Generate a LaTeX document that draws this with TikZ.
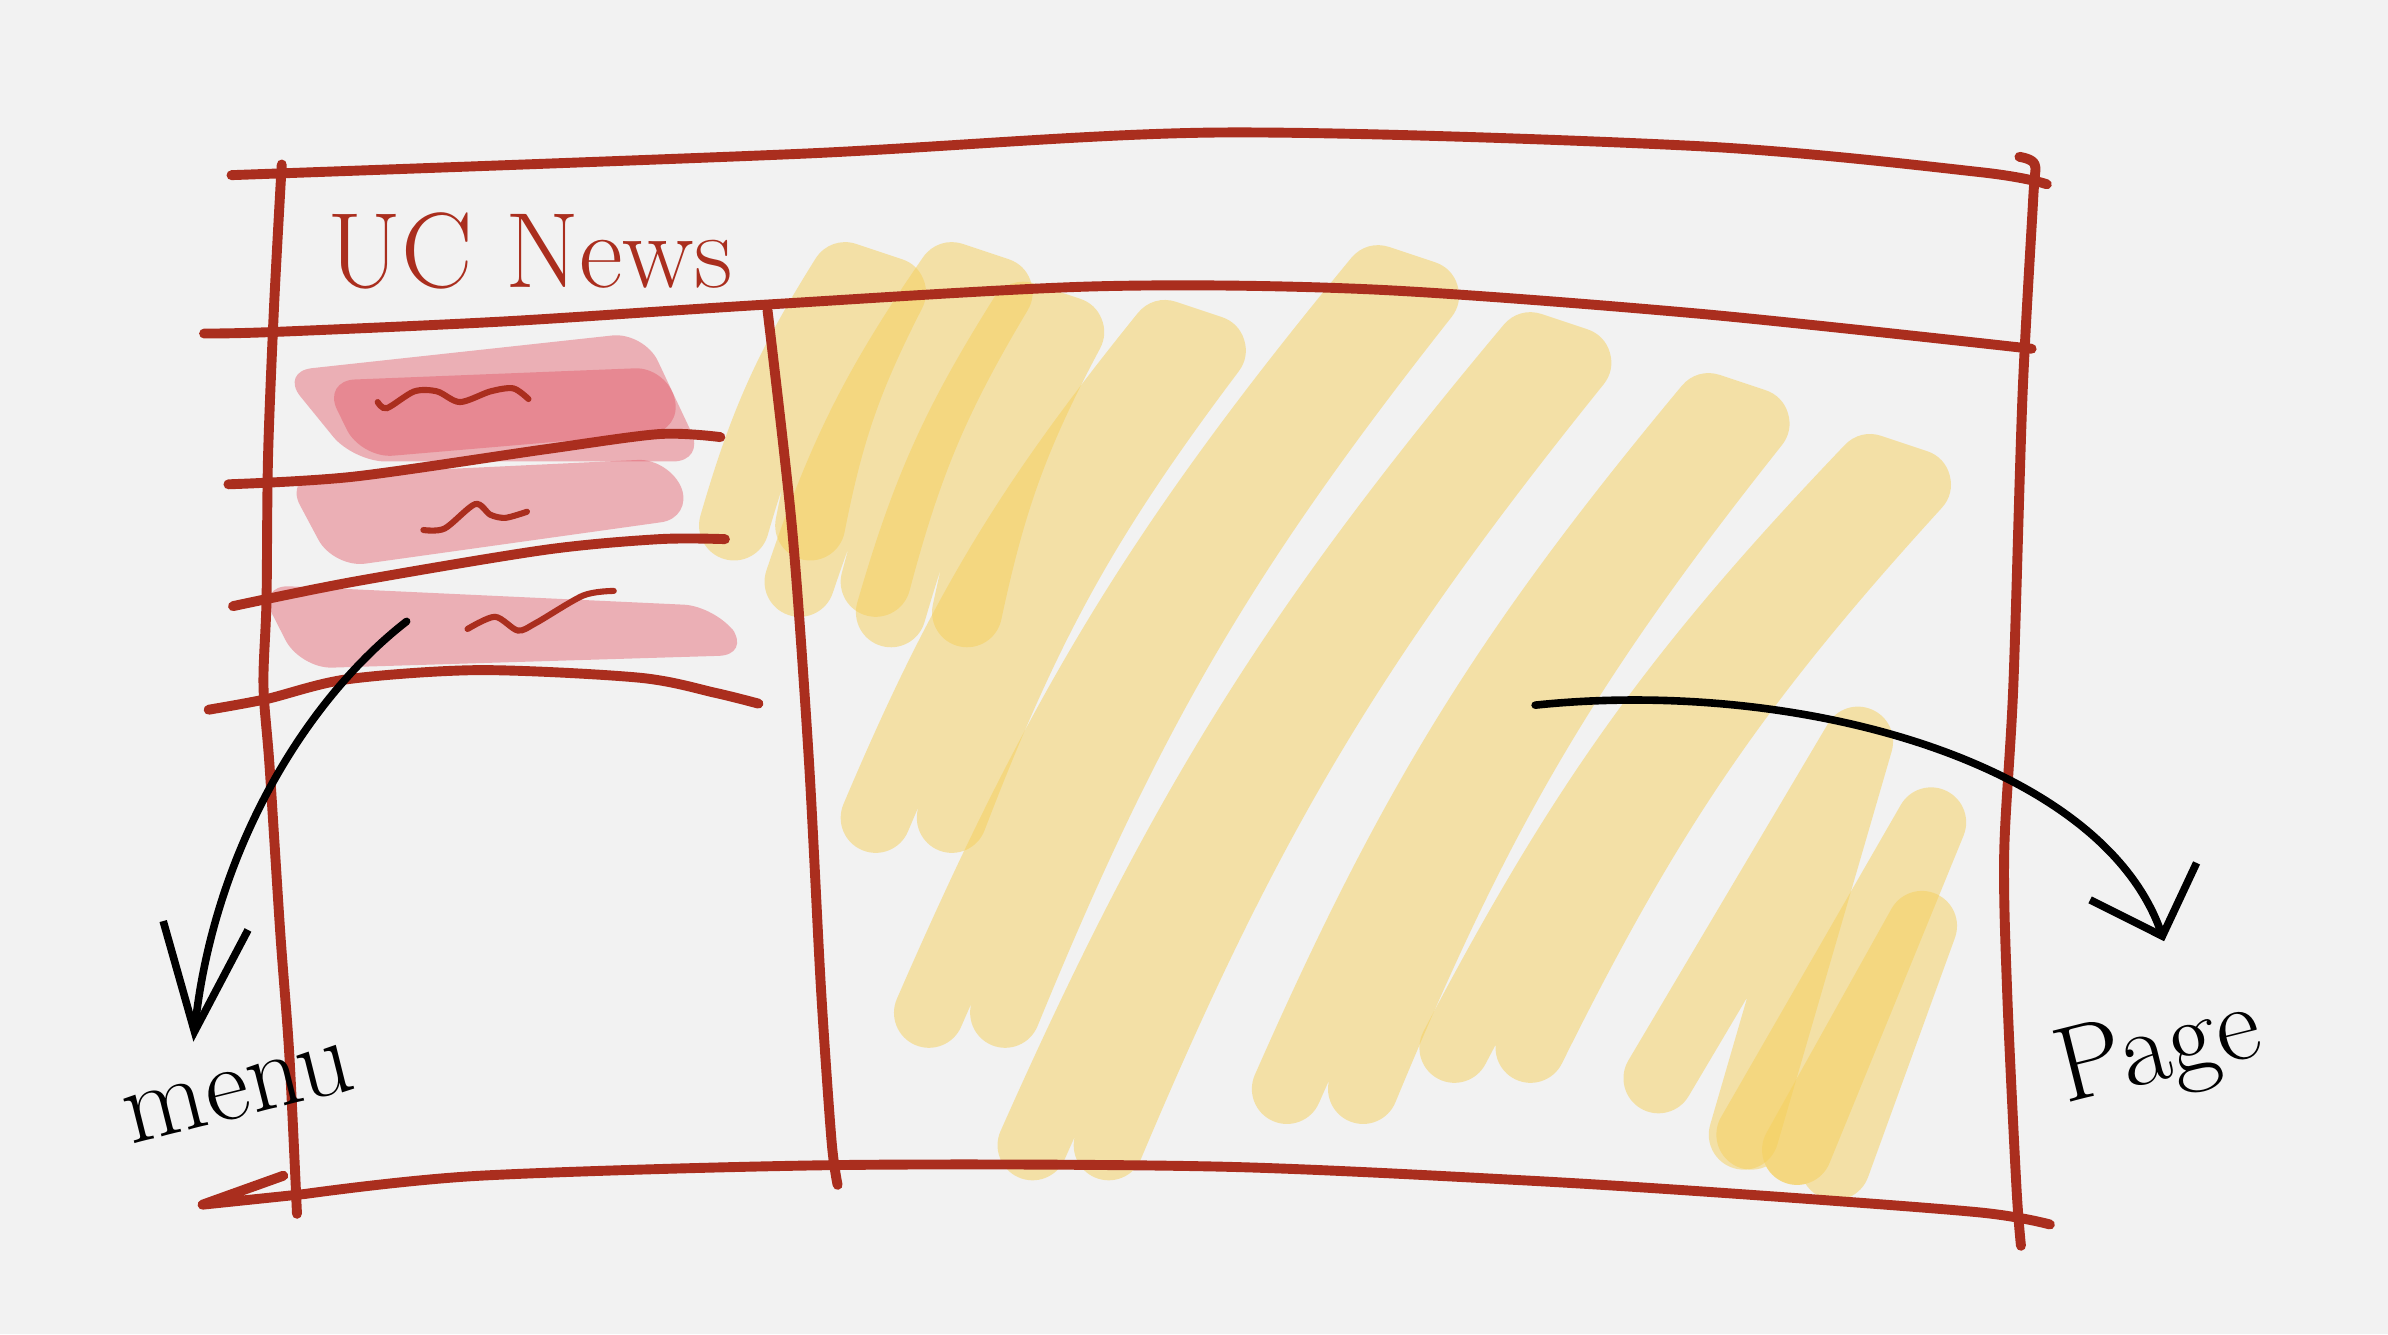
\documentclass[tikz,border=0pt]{standalone}
\usetikzlibrary{arrows.meta}
\definecolor{PaperClr}{RGB}{242,242,242}
\definecolor{LineClr}{RGB}{170,46,30}
\definecolor{MarkClr}{RGB}{245,208,92}
\definecolor{HighClr}{RGB}{226,84,98}

\begin{document}
\begin{tikzpicture}[x=0.1mm,y=-0.1mm,
  frameline/.style={LineClr,line width=0.65mm,line cap=round,line join=round},
  markstroke/.style={MarkClr,opacity=0.5,line width=4.6mm,line cap=round,line join=round},
  highlight/.style={fill=HighClr,fill opacity=0.42,rounded corners=6},
  squiggle/.style={LineClr,line width=0.4mm,line cap=round},
  pointer/.style={black,line width=0.5mm,line cap=round},
  hand/.style={font=\fontsize{20}{24}\selectfont}]
\useasboundingbox (0,0) rectangle (1568,876);
\fill[PaperClr] (0,0) rectangle (1568,876);

% page area scribble, each band drawn up and back down
\foreach \xa/\ya/\xb/\yb in {482/345/555/182, 525/382/625/182, 585/402/672/208,
    575/537/765/220, 610/665/905/184, 678/752/1005/228, 845/715/1122/268, 955/688/1228/308}
  \draw[markstroke] (\xa,\ya) to[bend left=8] (\xb,\yb) -- ++(30,10)
    to[bend right=8] ++({\xa-\xb+20},{\ya-\yb-10});
\foreach \xa/\ya/\xb/\yb/\xc/\yc in {1089/708/1220/487/1145/745,
    1150/745/1268/540/1180/755, 1180/755/1262/608/1205/765}
  \draw[markstroke] (\xa,\ya) -- (\xb,\yb) -- (\xc,\yc);

% menu entries
\fill[highlight] (184,244) -- (423,218) -- (463,303) -- (232,303) -- cycle;
\fill[highlight] (212,250) -- (438,241) -- (448,283) -- (237,301) -- cycle;
\fill[highlight] (187,313) -- (440,301) -- (455,340) -- (219,373) -- cycle;
\fill[highlight] (169,384) -- (470,398) -- (493,430) -- (197,439) -- cycle;

\draw[squiggle] plot[smooth] coordinates {(248,264) (254,268) (272,257) (287,257) (302,264) (322,257) (337,255) (347,262)};
\draw[squiggle] plot[smooth] coordinates {(278,348) (292,347) (312,331) (322,338) (332,340) (346,336)};
\draw[squiggle] plot[smooth] coordinates {(307,413) (325,405) (340,414) (352,409) (383,391) (403,388)};

% frame
\draw[frameline] plot[smooth] coordinates {(152,115) (525,101) (800,87) (1116,96) (1300,113) (1344,121)};
\draw[frameline] plot[smooth] coordinates {(1326,103) (1336,108) (1335,131) (1328,260) (1322,450) (1316,560) (1318,653) (1324,779) (1327,818)};
\draw[frameline] plot[smooth] coordinates {(134,219) (179,218) (332,211) (503,200) (720,188) (900,190) (1116,206) (1334,229)};
\draw[frameline] plot[smooth] coordinates {(185,108) (180,200) (176,300) (175,394) (173,450) (177,503) (184,612) (190,693) (195,797)};
\draw[frameline] (186,772) -- (133,791) -- plot[smooth] coordinates {(200,784) (315,772) (550,765) (800,766) (1000,775) (1142,784) (1299,796) (1346,804)};
\draw[frameline] plot[smooth] coordinates {(504,204) (520,346) (531,497) (539,648) (546,749) (550,778)};
\draw[frameline] plot[smooth] coordinates {(150,318) (232,313) (358,295) (433,285) (473,287)};
\draw[frameline] plot[smooth] coordinates {(153,398) (232,382) (358,361) (433,354) (476,354)};
\draw[frameline] plot[smooth] coordinates {(137,466) (175,459) (228,446) (315,440) (420,445) (470,455) (498,462)};

\node[hand,text=LineClr] (title) at (348,165) {UC News};

% notes
\node[hand,rotate=14] (menulabel) at (157,718) {menu};
\node[hand,rotate=14] (pagelabel) at (1418,692) {Page};
\coordinate (menufrom) at (267,408);
\coordinate (menutip) at (127,684);
\coordinate (pagefrom) at (1008,463);
\coordinate (pagetip) at (1421,618);
\draw[pointer,-{Straight Barb[length=7mm,width=5.6mm]}] (menufrom) .. controls (200,460) and (140,560) .. (menutip);
\draw[pointer,-{Straight Barb[length=3.8mm,width=7.4mm]}] (pagefrom) .. controls (1180,445) and (1380,500) .. (pagetip);
\end{tikzpicture}
\end{document}
